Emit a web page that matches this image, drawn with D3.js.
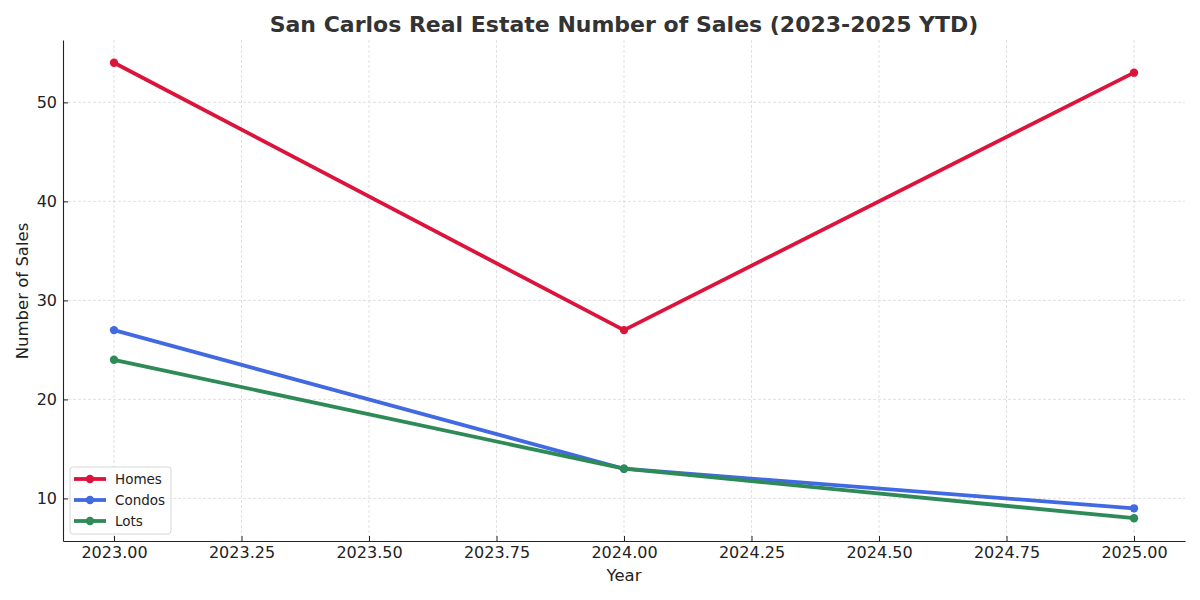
<!DOCTYPE html>
<html>
<head>
<meta charset="utf-8">
<script src="https://cdn.jsdelivr.net/npm/d3@7"></script>
<style>
  body { margin: 0; background: #fff; }
  svg { font-family: "DejaVu Sans", sans-serif; }
</style>
</head>
<body>
<svg id="chart" width="1200" height="600"></svg>
<script>
const years = [2023, 2024, 2025];
const homes = [54, 27, 53];
const condos = [27, 13, 9];
const lots = [24, 13, 8];
const xTicks = [2023, 2023.25, 2023.5, 2023.75, 2024, 2024.25, 2024.5, 2024.75, 2025];
const yTicks = [10, 20, 30, 40, 50];

const series = [
    { name: 'Homes', values: homes, color: '#dc143c' },
    { name: 'Condos', values: condos, color: '#4169e1' },
    { name: 'Lots', values: lots, color: '#2e8b57' }
];

const svg = d3.select('#chart');
const mLeft = 63, mRight = 1185, mTop = 40, mBottom = 541;

const x = d3.scaleLinear().domain([2022.9, 2025.1]).range([mLeft, mRight]);
const y = d3.scaleLinear().domain([5.7, 56.3]).range([mBottom, mTop]);

// grid
const grid = svg.append('g')
    .attr('stroke', '#d9d9d9')
    .attr('stroke-width', 0.8)
    .attr('stroke-dasharray', '3,2');
grid.selectAll('.gx').data(xTicks).enter().append('line')
    .attr('x1', d => x(d)).attr('x2', d => x(d))
    .attr('y1', mTop).attr('y2', mBottom);
grid.selectAll('.gy').data(yTicks).enter().append('line')
    .attr('x1', mLeft).attr('x2', mRight)
    .attr('y1', d => y(d)).attr('y2', d => y(d));

// axes (ticks point inward, no end ticks)
const xAxis = svg.append('g')
    .attr('transform', `translate(0,${mBottom})`)
    .call(d3.axisBottom(x).tickValues(xTicks).tickFormat(d3.format('.2f'))
        .tickSize(-5).tickSizeOuter(0).tickPadding(6));
const yAxis = svg.append('g')
    .attr('transform', `translate(${mLeft},0)`)
    .call(d3.axisLeft(y).tickValues(yTicks)
        .tickSize(-5).tickSizeOuter(0).tickPadding(6));

[xAxis, yAxis].forEach(a => {
    a.select('.domain').attr('stroke', '#222').attr('stroke-width', 1.1);
    a.selectAll('.tick line').attr('stroke', '#222');
    a.selectAll('.tick text').attr('font-size', 16).attr('fill', '#222')
        .attr('font-family', '"DejaVu Sans", sans-serif');
});

// lines
const line = d3.line().x((d, i) => x(years[i])).y(d => y(d));
series.forEach(s => {
    svg.append('path')
        .datum(s.values)
        .attr('fill', 'none')
        .attr('stroke', s.color)
        .attr('stroke-width', 3.8)
        .attr('stroke-linejoin', 'round')
        .attr('d', line);
    svg.append('g').selectAll('circle')
        .data(s.values)
        .enter().append('circle')
        .attr('cx', (d, i) => x(years[i]))
        .attr('cy', d => y(d))
        .attr('r', 4.2)
        .attr('fill', s.color);
});

// titles
svg.append('text')
    .attr('x', 624).attr('y', 32)
    .attr('text-anchor', 'middle')
    .attr('font-size', 22).attr('font-weight', 'bold')
    .attr('fill', '#333')
    .text('San Carlos Real Estate Number of Sales (2023-2025 YTD)');
svg.append('text')
    .attr('x', 624).attr('y', 581)
    .attr('text-anchor', 'middle')
    .attr('font-size', 16.5).attr('fill', '#222')
    .text('Year');
svg.append('text')
    .attr('transform', 'translate(28,291) rotate(-90)')
    .attr('text-anchor', 'middle')
    .attr('font-size', 16.5).attr('fill', '#222')
    .text('Number of Sales');

// legend
const legend = svg.append('g').attr('transform', 'translate(70,467)');
legend.append('rect')
    .attr('width', 101).attr('height', 67)
    .attr('rx', 3)
    .attr('fill', 'rgba(255,255,255,0.8)')
    .attr('stroke', '#d6d6d6');
series.forEach((s, i) => {
    const g = legend.append('g').attr('transform', `translate(0,${12 + i * 21})`);
    g.append('line')
        .attr('x1', 4).attr('x2', 36)
        .attr('stroke', s.color).attr('stroke-width', 3.8);
    g.append('circle').attr('cx', 20).attr('r', 4.2).attr('fill', s.color);
    g.append('text')
        .attr('x', 45).attr('y', 5)
        .attr('font-size', 13.5).attr('fill', '#222')
        .text(s.name);
});
</script>
</body>
</html>
